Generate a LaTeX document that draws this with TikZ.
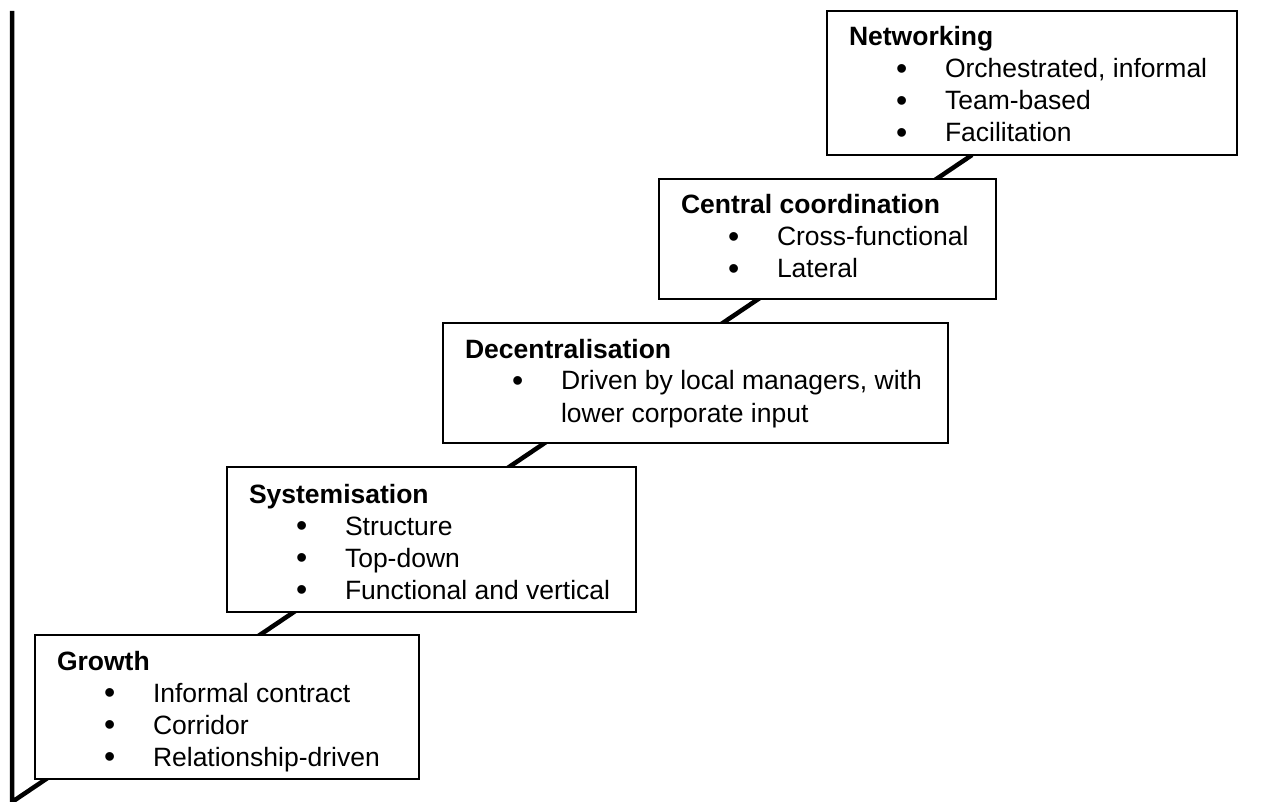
\documentclass[tikz,border=0pt]{standalone}
\usepackage{fontspec}
\setmainfont{Liberation Sans}
\usetikzlibrary{backgrounds}

\newcommand{\stagepoint}[1]{\\\hspace*{47pt}\makebox[49pt][l]{\raisebox{-1.5pt}{\fontsize{32}{32}\selectfont\textbullet}}#1}

\begin{document}
\begin{tikzpicture}[x=1pt,y=-1pt,
  stage/.style={draw,line width=1.6pt,fill=white,anchor=north west,
    outer sep=0pt,inner sep=0pt,font=\fontsize{26.5}{32}\selectfont}]
  \path[use as bounding box] (0,0) rectangle (1261,802);
  % the five stages, bottom to top
  \node[stage] (grow) at (35,635) {\parbox[t][144pt][t]{384pt}{\leftskip=22pt
    \rule{0pt}{35pt}\textbf{Growth}\stagepoint{Informal contract}\stagepoint{Corridor}\stagepoint{Relationship-driven}}};
  \node[stage] (syst) at (227,467) {\parbox[t][145pt][t]{409pt}{\leftskip=22pt
    \rule{0pt}{36pt}\textbf{Systemisation}\stagepoint{Structure}\stagepoint{Top-down}\stagepoint{Functional and vertical}}};
  \node[stage] (decen) at (443,323) {\parbox[t][120pt][t]{505pt}{\leftskip=22pt
    \rule{0pt}{35pt}\textbf{Decentralisation}\stagepoint{Driven by local managers, with}\\\hspace*{96pt}lower corporate input}};
  \node[stage] (coord) at (659,179) {\parbox[t][120pt][t]{337pt}{\leftskip=22pt
    \rule{0pt}{35pt}\textbf{Central coordination}\stagepoint{Cross-functional}\stagepoint{Lateral}}};
  \node[stage] (net) at (827,11) {\parbox[t][144pt][t]{410pt}{\leftskip=22pt
    \rule{0pt}{35pt}\textbf{Networking}\stagepoint{Orchestrated, informal}\stagepoint{Team-based}\stagepoint{Facilitation}}};
  \coordinate (o) at (12,802);
  \coordinate (ytop) at (12,11);
  % axis and staircase line behind the boxes
  \begin{pgfonlayer}{background}
    \fill[white] (0,0) rectangle (1261,802);
    \draw[line width=4.5pt] (ytop) -- (o) -- ([xshift=145pt]net.south west);
  \end{pgfonlayer}
\end{tikzpicture}
\end{document}
